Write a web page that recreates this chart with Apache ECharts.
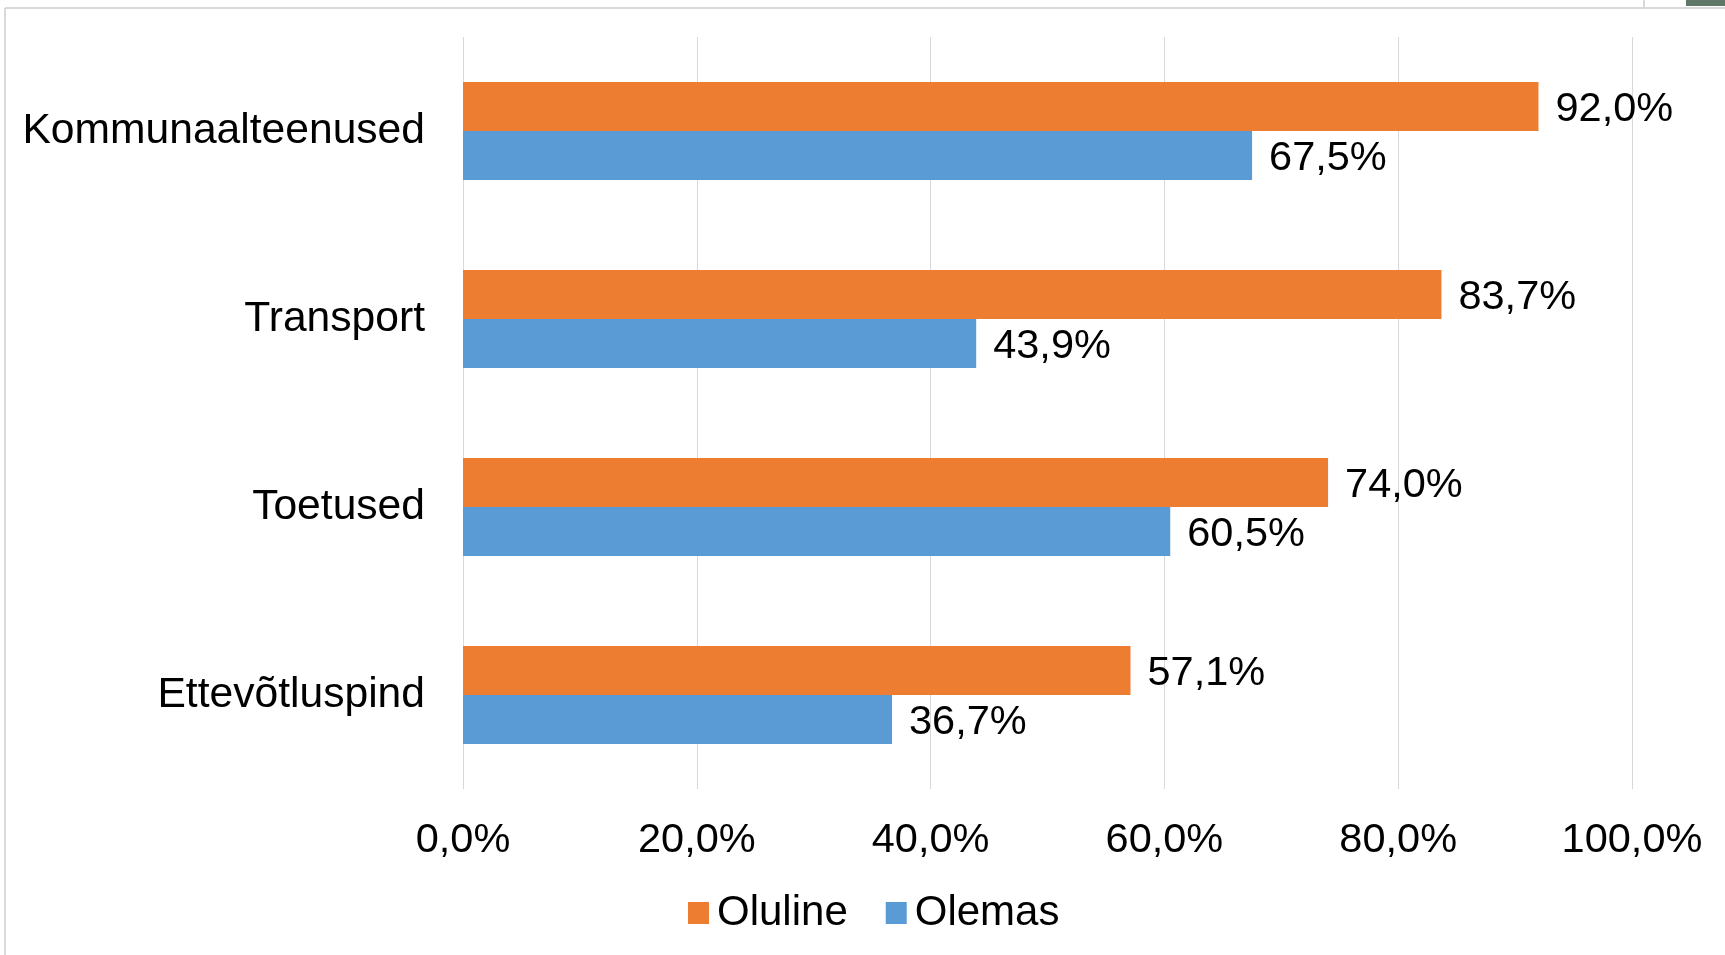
<!DOCTYPE html>
<html>
<head>
<meta charset="utf-8">
<script src="https://cdn.jsdelivr.net/npm/echarts@6/dist/echarts.min.js"></script>
<style>
html,body{margin:0;padding:0;background:#fff;}
#chart{width:1725px;height:955px;}
</style>
</head>
<body>
<div id="chart"></div>
<script>
var categories = ['Kommunaalteenused', 'Transport', 'Toetused', 'Ettevõtluspind'];
var oluline = [92.0, 83.7, 74.0, 57.1];
var olemas = [67.5, 43.9, 60.5, 36.7];
var seriesNames = ['Oluline', 'Olemas'];
var xTicks = [0, 20, 40, 60, 80, 100];

function fmt(v) { return Number(v).toFixed(1).replace('.', ',') + '%'; }

var FONT = 'Liberation Sans';
var chart = echarts.init(document.getElementById('chart'));
chart.setOption({
  backgroundColor: '#fff',
  animation: false,
  textStyle: { fontFamily: FONT },
  grid: { left: 463, right: 93, top: 37, bottom: 166, containLabel: false },
  legend: {
    data: seriesNames,
    left: 683,
    top: 887,
    itemWidth: 21,
    itemHeight: 22,
    itemGap: 38,
    icon: 'rect',
    textStyle: { fontFamily: FONT, fontSize: 42, color: '#000', padding: [0, 0, 0, 3] }
  },
  xAxis: {
    type: 'value',
    min: xTicks[0],
    max: xTicks[xTicks.length - 1],
    interval: 20,
    axisLine: { show: false },
    axisTick: { show: false },
    splitLine: { show: true, lineStyle: { color: '#D9D9D9', width: 1 } },
    axisLabel: { fontFamily: FONT, fontSize: 41.5, color: '#000', margin: 31, formatter: fmt }
  },
  yAxis: {
    type: 'category',
    data: categories,
    inverse: true,
    axisLine: { show: false },
    axisTick: { show: false },
    axisLabel: { fontFamily: FONT, fontSize: 42.6, color: '#000', margin: 38, padding: [2, 0, 0, 0] }
  },
  series: [
    {
      name: seriesNames[0], type: 'bar', data: oluline, barWidth: 49, barGap: '0%',
      itemStyle: { color: '#ED7D31' },
      label: { show: true, position: 'right', distance: 17, offset: [0, 3], fontFamily: FONT, fontSize: 41.5, color: '#000', formatter: function (p) { return fmt(p.value); } }
    },
    {
      name: seriesNames[1], type: 'bar', data: olemas, barWidth: 49, barGap: '0%',
      itemStyle: { color: '#5B9BD5' },
      label: { show: true, position: 'right', distance: 17, offset: [0, 3], fontFamily: FONT, fontSize: 41.5, color: '#000', formatter: function (p) { return fmt(p.value); } }
    }
  ],
  graphic: [
    { type: 'line', shape: { x1: 5, y1: 8, x2: 1725, y2: 8 }, style: { stroke: '#D9D9D9', lineWidth: 2 } },
    { type: 'line', shape: { x1: 5, y1: 8, x2: 5, y2: 955 }, style: { stroke: '#D9D9D9', lineWidth: 2 } },
    { type: 'line', shape: { x1: 1644, y1: 0, x2: 1644, y2: 8 }, style: { stroke: '#D9D9D9', lineWidth: 2 } },
    { type: 'rect', shape: { x: 1686, y: 0, width: 39, height: 6 }, style: { fill: '#5E7766' } }
  ]
});
</script>
</body>
</html>
